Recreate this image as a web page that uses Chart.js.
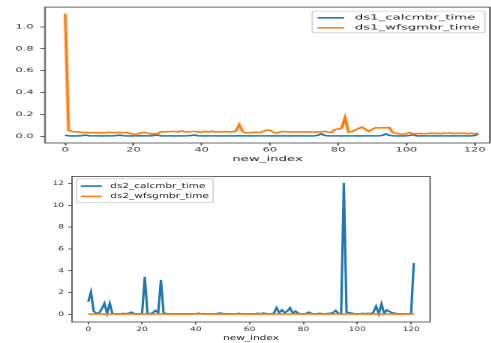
<!DOCTYPE html>
<html><head><meta charset="utf-8">
<script src="https://cdn.jsdelivr.net/npm/chart.js@4.4.1/dist/chart.umd.min.js"></script>
<style>
html,body{margin:0;padding:0;background:#fff;overflow:hidden;width:491px;height:343px;}
.wrap{position:absolute;left:0;transform-origin:0 0;}
#w1{top:0;transform:scaleX(1.9);}
#w2{top:170px;transform:scaleX(1.5);}
canvas{display:block;}
</style></head><body>
<div class="wrap" id="w1"><canvas id="c1" width="259" height="170"></canvas></div>
<div class="wrap" id="w2"><canvas id="c2" width="328" height="173"></canvas></div>
<script>
const newIndex = [0,1,2,3,4,5,6,7,8,9,10,11,12,13,14,15,16,17,18,19,20,21,22,23,24,25,26,27,28,29,30,31,32,33,34,35,36,37,38,39,40,41,42,43,44,45,46,47,48,49,50,51,52,53,54,55,56,57,58,59,60,61,62,63,64,65,66,67,68,69,70,71,72,73,74,75,76,77,78,79,80,81,82,83,84,85,86,87,88,89,90,91,92,93,94,95,96,97,98,99,100,101,102,103,104,105,106,107,108,109,110,111,112,113,114,115,116,117,118,119,120,121];

const ds1_calcmbr_time = [
0.012,0.005,0.004,0.004,0.005,0.008,0.012,0.006,0.005,0.005,
0.005,0.004,0.005,0.005,0.005,0.008,0.012,0.006,0.005,0.004,
0.005,0.005,0.006,0.005,0.005,0.005,0.009,0.013,0.005,0.004,
0.005,0.005,0.004,0.005,0.005,0.005,0.006,0.009,0.012,0.005,
0.005,0.004,0.005,0.005,0.005,0.004,0.005,0.005,0.005,0.004,
0.005,0.006,0.005,0.005,0.004,0.005,0.005,0.005,0.005,0.005,
0.005,0.004,0.005,0.005,0.005,0.005,0.004,0.005,0.005,0.005,
0.005,0.005,0.004,0.005,0.010,0.022,0.010,0.005,0.005,0.005,
0.005,0.004,0.005,0.005,0.005,0.005,0.004,0.005,0.005,0.005,
0.005,0.005,0.005,0.010,0.022,0.010,0.005,0.005,0.004,0.005,
0.005,0.010,0.016,0.005,0.004,0.005,0.005,0.005,0.005,0.004,
0.005,0.005,0.005,0.004,0.005,0.005,0.005,0.005,0.004,0.005,
0.008,0.022];

const ds1_wfsgmbr_time = [
1.12,0.055,0.045,0.042,0.040,0.035,0.036,0.034,0.033,0.035,
0.034,0.033,0.035,0.038,0.034,0.035,0.037,0.034,0.036,0.028,
0.020,0.022,0.030,0.038,0.032,0.022,0.026,0.022,0.042,0.043,
0.042,0.045,0.046,0.040,0.050,0.043,0.040,0.044,0.046,0.040,
0.038,0.047,0.040,0.048,0.040,0.043,0.040,0.044,0.041,0.043,
0.047,0.108,0.045,0.032,0.035,0.036,0.040,0.035,0.045,0.058,
0.055,0.040,0.030,0.040,0.045,0.043,0.040,0.042,0.040,0.042,
0.040,0.042,0.040,0.041,0.042,0.040,0.045,0.040,0.036,0.062,
0.068,0.075,0.170,0.040,0.045,0.058,0.072,0.085,0.065,0.045,
0.065,0.080,0.078,0.080,0.079,0.081,0.035,0.030,0.022,0.020,
0.025,0.036,0.022,0.025,0.027,0.025,0.026,0.030,0.027,0.028,
0.025,0.031,0.027,0.033,0.025,0.030,0.027,0.029,0.025,0.028,
0.024,0.030];

const ds2_calcmbr_time = [
1.15,2.05,0.3,0.1,0.12,0.5,1.0,0.1,1.0,0.05,
0.05,0.05,0.05,0.08,0.05,0.1,0.2,0.08,0.05,0.05,
0.05,3.45,0.1,0.05,0.15,0.35,0.15,3.15,0.1,0.08,
0.05,0.05,0.04,0.05,0.05,0.05,0.04,0.05,0.05,0.05,
0.05,0.05,0.05,0.04,0.05,0.05,0.05,0.05,0.08,0.12,
0.08,0.05,0.05,0.04,0.05,0.05,0.08,0.05,0.05,0.04,
0.05,0.05,0.05,0.1,0.05,0.12,0.08,0.05,0.05,0.1,
0.6,0.15,0.4,0.15,0.3,0.6,0.1,0.3,0.1,0.05,
0.05,0.08,0.2,0.08,0.05,0.05,0.1,0.05,0.05,0.08,
0.1,0.15,0.35,0.08,0.05,12.05,0.2,0.15,0.1,0.05,
0.05,0.05,0.08,0.05,0.1,0.05,0.2,0.75,0.05,0.95,
0.1,0.4,0.25,0.15,0.1,0.05,0.05,0.05,0.05,0.05,
0.05,4.7];

const ds2_wfsgmbr_time = [
0.03,0.03,0.03,0.03,0.03,0.03,0.03,0.03,0.03,0.03,
0.03,0.03,0.03,0.03,0.03,0.03,0.03,0.03,0.03,0.03,
0.03,0.03,0.03,0.03,0.03,0.03,0.03,0.03,0.03,0.03,
0.03,0.03,0.03,0.03,0.03,0.03,0.03,0.03,0.03,0.04,
0.05,0.12,0.04,0.03,0.03,0.03,0.03,0.03,0.03,0.03,
0.03,0.03,0.03,0.03,0.03,0.03,0.03,0.03,0.03,0.03,
0.03,0.03,0.03,0.03,0.03,0.03,0.03,0.03,0.03,0.03,
0.03,0.03,0.03,0.03,0.03,0.03,0.03,0.03,0.03,0.03,
0.03,0.03,0.03,0.03,0.03,0.03,0.03,0.03,0.03,0.03,
0.03,0.03,0.03,0.03,0.03,0.03,0.03,0.03,0.03,0.03,
0.03,0.03,0.03,0.03,0.03,0.03,0.03,0.03,0.03,0.03,
0.03,0.03,0.03,0.03,0.03,0.03,0.03,0.03,0.03,0.03,
0.03,0.03];

const xTickValues = [0,20,40,60,80,100,120];
const y1TickValues = [0,0.2,0.4,0.6,0.8,1.0];
const y2TickValues = [0,2,4,6,8,10,12];
const xTitle = 'new_index';

const C0 = '#1f77b4', C1 = '#ff7f0e';
const FONT = 'DejaVu Sans';

const framePlugin = {
  id: 'frame',
  afterDatasetsDraw(chart) {
    const {ctx, chartArea: a} = chart;
    ctx.save();
    ctx.strokeStyle = '#444';
    ctx.lineWidth = 0.8;
    ctx.strokeRect(a.left, a.top, a.right - a.left, a.bottom - a.top);
    ctx.restore();
  }
};

const legendPlugin = {
  id: 'mplLegend',
  afterDraw(chart, args, o) {
    const {ctx, chartArea: a} = chart;
    const ds = chart.data.datasets;
    ctx.save();
    ctx.font = '7px "' + FONT + '"';
    const tw = Math.max(...ds.map(d => ctx.measureText(d.label).width));
    const w = o.pad + o.handle + o.textPad + tw + o.pad;
    const left = o.align === 'right' ? a.right - o.dx - w : a.left + o.dx;
    const top = a.top + o.dy;
    ctx.beginPath();
    ctx.roundRect(left, top, w, o.height, 1.5);
    ctx.fillStyle = 'rgba(255,255,255,0.8)';
    ctx.fill();
    ctx.strokeStyle = '#cfcfcf';
    ctx.lineWidth = 0.8;
    ctx.stroke();
    ds.forEach((d, i) => {
      const y = top + o.row1 + i * o.rowGap;
      ctx.beginPath();
      ctx.strokeStyle = d.borderColor;
      ctx.lineWidth = 1.6;
      ctx.moveTo(left + o.pad, y);
      ctx.lineTo(left + o.pad + o.handle, y);
      ctx.stroke();
      ctx.fillStyle = '#222';
      ctx.textBaseline = 'middle';
      ctx.textAlign = 'left';
      ctx.fillText(d.label, left + o.pad + o.handle + o.textPad, y);
    });
    ctx.restore();
  }
};

function pts(arr) { return arr.map((v, i) => ({x: newIndex[i], y: v})); }

function makeChart(id, c) {
  return new Chart(document.getElementById(id), {
    type: 'line',
    data: {
      datasets: [
        {label: c.labels[0], data: pts(c.s0), borderColor: C0, backgroundColor: C0, borderWidth: 1.6, pointRadius: 0, tension: 0, order: 1},
        {label: c.labels[1], data: pts(c.s1), borderColor: C1, backgroundColor: C1, borderWidth: 1.6, pointRadius: 0, tension: 0, order: 0}
      ]
    },
    options: {
      responsive: false,
      animation: false,
      devicePixelRatio: 2,
      layout: {padding: c.padding},
      plugins: {
        legend: {display: false},
        tooltip: {enabled: false},
        mplLegend: c.legend
      },
      scales: {
        x: {
          type: 'linear', min: c.xmin, max: c.xmax,
          afterBuildTicks: ax => { ax.ticks = xTickValues.map(v => ({value: v})); },
          afterFit: ax => { ax.height = c.xh; },
          grid: {display: true, drawOnChartArea: false, drawTicks: true, tickLength: 2.5, color: '#444', lineWidth: 0.8},
          border: {display: false},
          ticks: {font: {family: FONT, size: 6}, color: '#333', padding: c.xpad, maxRotation: 0, autoSkip: false},
          title: {display: true, text: xTitle, font: {family: FONT, size: 7}, color: '#222', padding: {top: 0, bottom: c.titlePad}}
        },
        y: {
          type: 'linear', min: c.ymin, max: c.ymax,
          afterBuildTicks: ax => { ax.ticks = c.yticks.map(v => ({value: v})); },
          afterFit: ax => { ax.width = c.yw; },
          grid: {display: true, drawOnChartArea: false, drawTicks: true, tickLength: 2.5, color: '#444', lineWidth: 0.8},
          border: {display: false},
          ticks: {font: {family: FONT, size: 6}, color: '#333', padding: c.ypad, autoSkip: false, callback: c.fmt}
        }
      }
    },
    plugins: [framePlugin, legendPlugin]
  });
}

makeChart('c1', {
  labels: ['ds1_calcmbr_time', 'ds1_wfsgmbr_time'],
  s0: ds1_calcmbr_time, s1: ds1_wfsgmbr_time,
  padding: {top: 6, right: 1.1, left: 0, bottom: 0},
  xmin: -5.9, xmax: 124.5, xh: 27, xpad: 1, titlePad: 6.5,
  ymin: -0.06, ymax: 1.18, yticks: y1TickValues, yw: 23.7, ypad: 3.5,
  fmt: v => Number(v).toFixed(1),
  legend: {align: 'right', dx: 2.6, dy: 4, height: 21.7, row1: 6.7, rowGap: 10, pad: 2.8, handle: 14, textPad: 5.6}
});

makeChart('c2', {
  labels: ['ds2_calcmbr_time', 'ds2_wfsgmbr_time'],
  s0: ds2_calcmbr_time, s1: ds2_wfsgmbr_time,
  padding: {top: 6, right: 41.3, left: 0, bottom: 0},
  xmin: -6.05, xmax: 127.05, xh: 21, xpad: 1.2, titlePad: 0.8,
  ymin: -0.7, ymax: 12.65, yticks: y2TickValues, yw: 48, ypad: 2.8,
  fmt: v => String(v),
  legend: {align: 'left', dx: 3.1, dy: 2.3, height: 24, row1: 7.4, rowGap: 10.3, pad: 2.8, handle: 14, textPad: 5.6}
});
</script>
</body></html>
